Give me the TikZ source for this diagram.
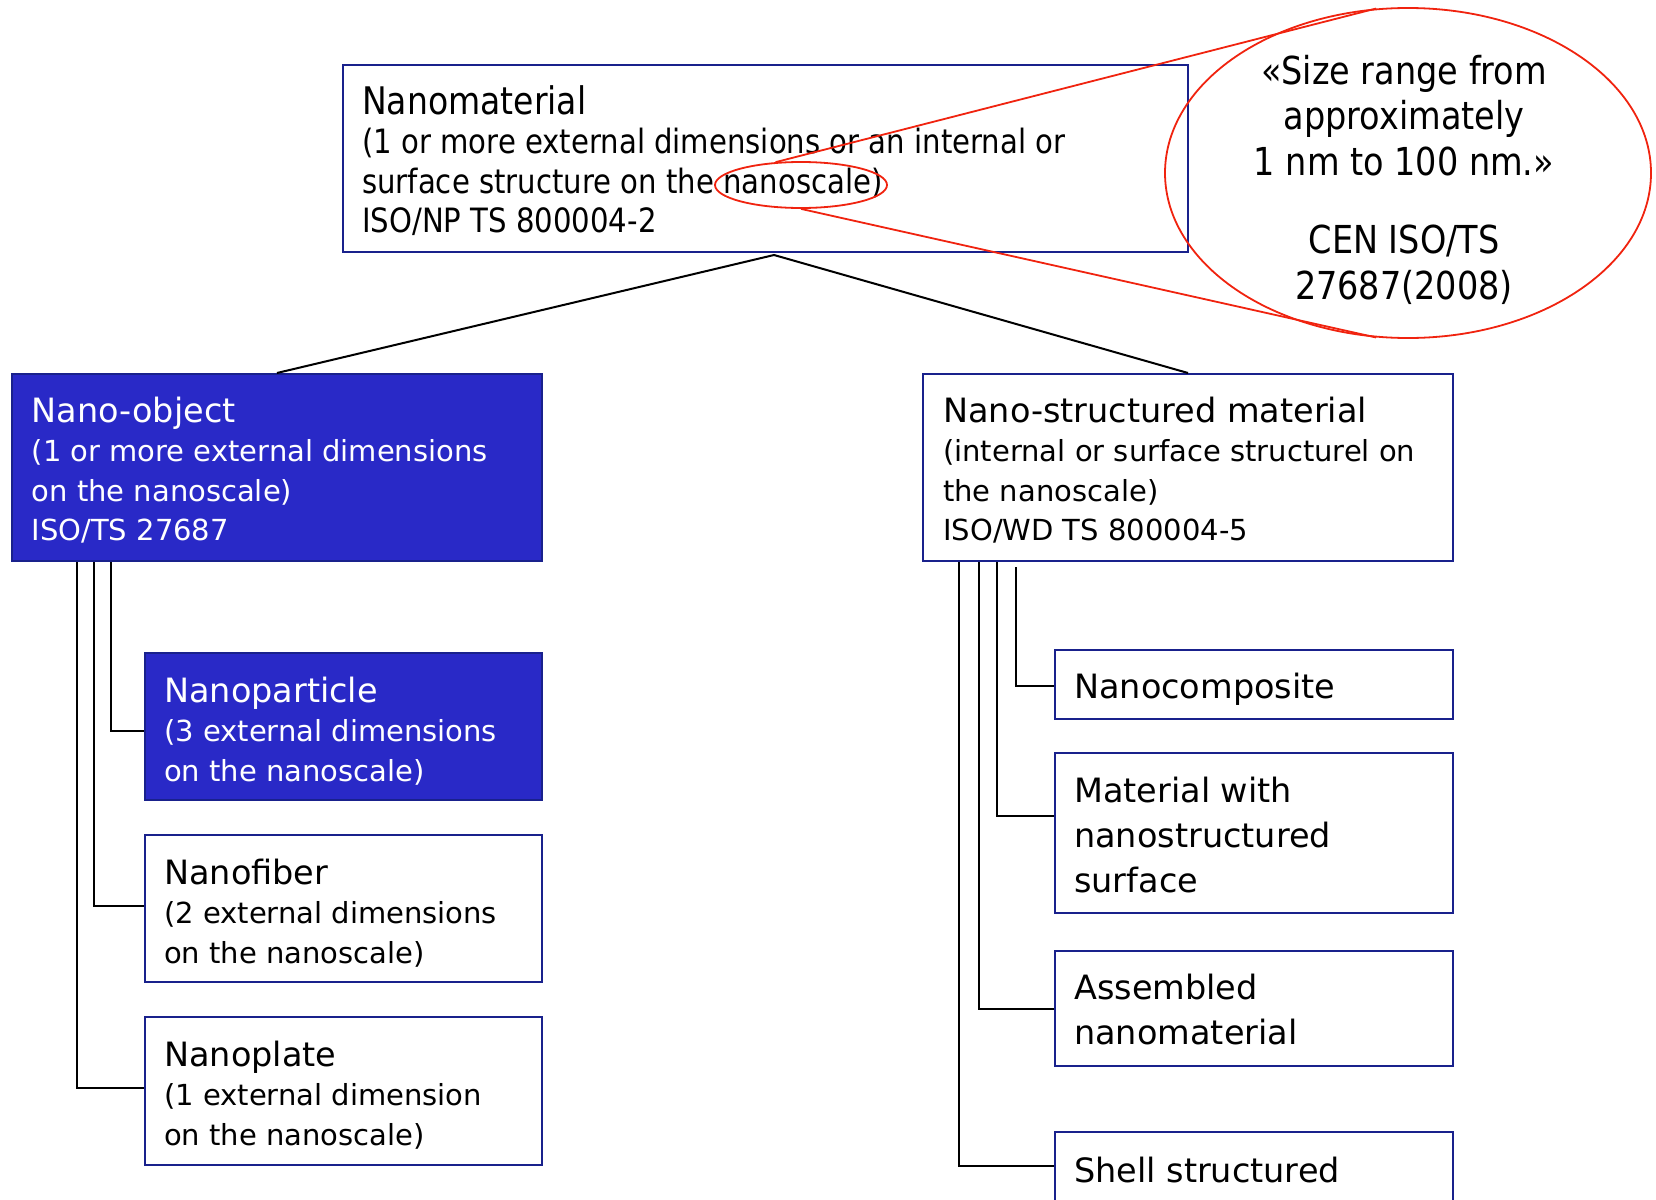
\documentclass[tikz,border=0pt]{standalone}
\usepackage{fontspec}
\usetikzlibrary{shapes.geometric}
\setmainfont{DejaVu Sans}
\newfontfamily\narrowfont{DejaVu Sans}[FakeStretch=0.87]

\definecolor{navy}{RGB}{25,33,140}
\definecolor{objblue}{RGB}{41,41,199}
\definecolor{zoomred}{RGB}{240,35,15}

% stacked lines with a fixed baseline distance; the first baseline is the box baseline
\newcommand{\linestack}[2][39.5pt]{\vtop{\baselineskip=#1\lineskiplimit=-100pt\lineskip=0pt #2}}
\newcommand{\hdline}[1]{\hbox{\fontsize{33.5}{39.5}\selectfont #1}}
\newcommand{\ntline}[1]{\hbox{\fontsize{29}{39.5}\selectfont #1}}
\newcommand{\bighd}[1]{\hbox{\narrowfont\fontsize{38}{40}\selectfont #1}}
\newcommand{\bignt}[1]{\hbox{\narrowfont\fontsize{33.5}{40}\selectfont #1}}
\newcommand{\ctrline}[1]{\hbox to 0pt{\hss\narrowfont\fontsize{38.5}{45.5}\selectfont #1\hss}}

\begin{document}
\begin{tikzpicture}[x=1pt,y=-1pt,
  box/.style={draw=navy, line width=2pt, fill=white, rectangle, inner sep=0pt, anchor=north west},
  objbox/.style={box, fill=objblue, line width=2.4pt},
  txt/.style={anchor=base west, inner sep=0pt, text=black},
  objtxt/.style={txt, text=white},
  conn/.style={draw=black, line width=2pt},
  zoomline/.style={draw=zoomred, line width=1.8pt},
  zoomring/.style={draw=zoomred, line width=1.8pt, ellipse, inner sep=0pt}]

\useasboundingbox (0,0) rectangle (1656,1199);
\clip (0,0) rectangle (1656,1199);

% ---------- boxes ----------
\node[box, minimum width=845pt, minimum height=187pt] (nm) at (342,64) {};
\node[objbox, minimum width=530.5pt, minimum height=187pt] (no) at (10.5,373) {};
\node[box, minimum width=530pt, minimum height=187pt] (ns) at (922,373) {};

\node[objbox, minimum width=397pt, minimum height=147pt] (np) at (144,652) {};
\node[box, minimum width=397pt, minimum height=147pt] (nf) at (144,834) {};
\node[box, minimum width=397pt, minimum height=148pt] (pl) at (144,1016) {};

\node[box, minimum width=398pt, minimum height=69pt] (nc) at (1054,649) {};
\node[box, minimum width=398pt, minimum height=160pt] (ms) at (1054,752) {};
\node[box, minimum width=398pt, minimum height=115pt] (am) at (1054,950) {};
\node[box, minimum width=398pt, minimum height=150pt] (sh) at (1054,1131) {};

% ---------- texts ----------
\node[txt] (nmtext) at ([shift={(20,50)}]nm.north west) {\linestack{%
  \bighd{Nanomaterial}
  \bignt{(1 or more external dimensions or an internal or}
  \bignt{surface structure on the nanoscale)}
  \bignt{ISO/NP TS 800004-2}}};

\node[objtxt] (notext) at ([shift={(21,49)}]no.north west) {\linestack{%
  \hdline{Nano-object}
  \ntline{(1 or more external dimensions}
  \ntline{on the nanoscale)}
  \ntline{ISO/TS 27687}}};

\node[txt] (nstext) at ([shift={(21,49)}]ns.north west) {\linestack{%
  \hdline{Nano-structured material}
  \ntline{(internal or surface structurel on}
  \ntline{the nanoscale)}
  \ntline{ISO/WD TS 800004-5}}};

\node[objtxt] (nptext) at ([shift={(20,50)}]np.north west) {\linestack{%
  \hdline{Nanoparticle}
  \ntline{(3 external dimensions}
  \ntline{on the nanoscale)}}};

\node[txt] (nftext) at ([shift={(20,50)}]nf.north west) {\linestack{%
  \hdline{Nanofiber}
  \ntline{(2 external dimensions}
  \ntline{on the nanoscale)}}};

\node[txt] (pltext) at ([shift={(20,50)}]pl.north west) {\linestack{%
  \hdline{Nanoplate}
  \ntline{(1 external dimension}
  \ntline{on the nanoscale)}}};

\node[txt] (nctext) at ([shift={(20,49)}]nc.north west) {\linestack{%
  \hdline{Nanocomposite}}};

\node[txt] (mstext) at ([shift={(20,50)}]ms.north west) {\linestack[45pt]{%
  \hdline{Material with}
  \hdline{nanostructured}
  \hdline{surface}}};

\node[txt] (amtext) at ([shift={(20,49)}]am.north west) {\linestack[45pt]{%
  \hdline{Assembled}
  \hdline{nanomaterial}}};

\node[txt] (shtext) at ([shift={(20,51)}]sh.north west) {\linestack{%
  \hdline{Shell structured}}};

% ---------- tree connectors ----------
\coordinate (apex) at ([shift={(8.5,2)}]nm.south);
\draw[conn] (no.north) -- (apex) -- (ns.north);

\draw[conn] ([xshift=100.5pt]no.south west) |- ([yshift=-79pt]np.north west);
\draw[conn] ([xshift=83.5pt]no.south west) |- ([yshift=-72pt]nf.north west);
\draw[conn] ([xshift=66.5pt]no.south west) |- ([yshift=-72pt]pl.north west);

\draw[conn] ([shift={(94,5)}]ns.south west) |- ([yshift=-37pt]nc.north west);
\draw[conn] ([xshift=75pt]ns.south west) |- ([yshift=-64pt]ms.north west);
\draw[conn] ([xshift=57pt]ns.south west) |- ([yshift=-59pt]am.north west);
\draw[conn] ([xshift=37pt]ns.south west) |- ([yshift=-35pt]sh.north west);

% ---------- magnified size range ----------
\node[zoomring, minimum width=172pt, minimum height=46pt] (scale) at (801,185) {};
\node[zoomring, minimum width=486pt, minimum height=330pt] (quote) at (1408,173) {};
\draw[zoomline] (scale.138) -- (quote.101);
\draw[zoomline] (scale.south) -- (quote.259);

\node[anchor=base, inner sep=0pt] (quotetext) at (1404,84.5) {\linestack[45.5pt]{%
  \ctrline{«Size range from}
  \ctrline{approximately}
  \ctrline{1 nm to 100 nm.»}
  \vskip 32.5pt
  \ctrline{CEN ISO/TS}
  \ctrline{27687(2008)}}};

\end{tikzpicture}
\end{document}
